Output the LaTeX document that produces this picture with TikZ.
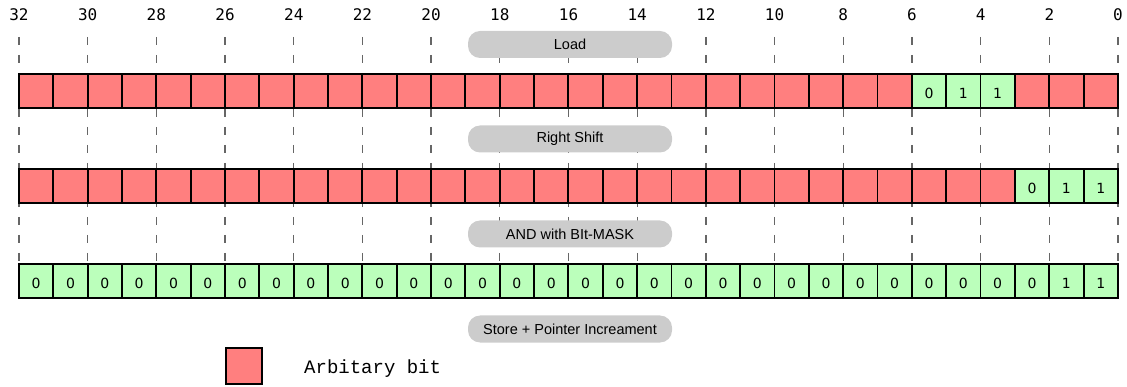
\documentclass[tikz,border=0pt]{standalone}
\usepackage{fontspec}
\setmainfont{Liberation Sans}
\newfontfamily\bitfont{DejaVu Sans}
\newfontfamily\numfont{DejaVu Sans Mono}
\newfontfamily\codefont{Liberation Mono}

\definecolor{bitred}{HTML}{FF7F7F}
\definecolor{bitgreen}{HTML}{BBFFBB}
\definecolor{pillgray}{HTML}{CCCCCC}
\definecolor{guidegray}{HTML}{666666}

\tikzset{
  cellbox/.style={draw=black, line width=1.9pt, minimum width=34.34pt,
    minimum height=34pt, inner sep=0pt, text height=15pt, text depth=0pt,
    font=\bitfont\fontsize{14}{16}\selectfont},
  rnd/.style={cellbox, fill=bitred},
  known/.style={cellbox, fill=bitgreen},
  pill/.style={fill=pillgray, rounded corners=12pt, minimum width=204pt,
    minimum height=27pt, inner sep=0pt, font=\fontsize{14.5}{17}\selectfont},
  guide/.style={draw=guidegray, line width=1.3pt, dash pattern=on 8pt off 10pt},
  bitnum/.style={font=\numfont\fontsize{16}{18}\selectfont, inner sep=0pt},
}

\begin{document}
\begin{tikzpicture}[x=1pt, y=-1pt]
  \useasboundingbox (0,0) rectangle (1127,387);

  % bit positions and guide lines every two bits
  \foreach \k in {0,...,16}{
    \pgfmathtruncatemacro\n{32-2*\k}
    \pgfmathsetmacro\gx{19+68.6875*\k}
    \node[bitnum] (b\n) at (\gx,15) {\n};
    \coordinate (t\n) at (\gx,37);
    \coordinate (u\n) at (\gx,298);
    \draw[guide] (t\n) -- (u\n);
  }

  % operation labels
  \node[pill] (load)  at (570,44.5) {Load};
  \node[pill] (shift) at (570,139)  {Right Shift};
  \node[pill] (mask)  at (570,234)  {AND with BIt-MASK};
  \node[pill] (store) at (570,329)  {Store + Pointer Increament};

  % row 1: loaded word
  \foreach \i in {0,...,25,29,30,31}
    \node[rnd] (ra\i) at ({19+34.34*(\i+0.5)},91) {};
  \foreach \i/\v in {26/0,27/1,28/1}
    \node[known] (ra\i) at ({19+34.34*(\i+0.5)},91) {\v};

  % row 2: after right shift
  \foreach \i in {0,...,28}
    \node[rnd] (rb\i) at ({19+34.34*(\i+0.5)},186) {};
  \foreach \i/\v in {29/0,30/1,31/1}
    \node[known] (rb\i) at ({19+34.34*(\i+0.5)},186) {\v};

  % row 3: after masking
  \foreach \i in {0,...,29}
    \node[known] (rc\i) at ({19+34.34*(\i+0.5)},281) {0};
  \foreach \i/\v in {30/1,31/1}
    \node[known] (rc\i) at ({19+34.34*(\i+0.5)},281) {\v};

  % legend
  \node[rnd, minimum width=36pt, minimum height=36pt] (legendbox) at (244,366) {};
  \node[anchor=west, inner sep=0pt, font=\codefont\fontsize{19}{21}\selectfont]
    (legendtext) at (304,369) {Arbitary bit};
\end{tikzpicture}
\end{document}
